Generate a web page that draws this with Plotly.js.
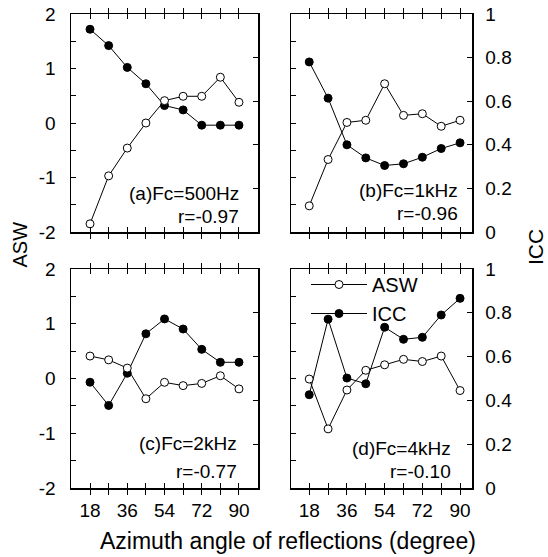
<!DOCTYPE html>
<html><head><meta charset="utf-8">
<script src="https://cdn.plot.ly/plotly-3.0.1.min.js"></script>
<style>html,body{margin:0;padding:0;background:#fff}#chart{width:548px;height:557px}</style>
</head><body><div id="chart"></div>
<script>
const angles = [18, 27, 36, 45, 54, 63, 72, 81, 90];
const panelLabels = ['(a)Fc=500Hz', '(b)Fc=1kHz', '(c)Fc=2kHz', '(d)Fc=4kHz'];
const rLabels = ['r=-0.97', 'r=-0.96', 'r=-0.77', 'r=-0.10'];
const aswA = [-1.85, -0.97, -0.46, 0.0, 0.41, 0.49, 0.49, 0.84, 0.38];
const iccA = [0.93, 0.855, 0.755, 0.68, 0.58, 0.56, 0.49, 0.49, 0.49];
const aswB = [-1.52, -0.67, 0.01, 0.05, 0.72, 0.14, 0.17, -0.06, 0.05];
const iccB = [0.78, 0.614, 0.40, 0.34, 0.305, 0.313, 0.343, 0.383, 0.409];
const aswC = [0.41, 0.34, 0.19, -0.37, -0.07, -0.13, -0.09, 0.05, -0.19];
const iccC = [0.483, 0.377, 0.524, 0.704, 0.772, 0.726, 0.633, 0.574, 0.574];
const aswD = [-0.01, -0.92, -0.21, 0.15, 0.25, 0.35, 0.31, 0.41, -0.22];
const iccD = [0.426, 0.771, 0.502, 0.476, 0.734, 0.679, 0.688, 0.790, 0.866];
const xTickVals = [18, 27, 36, 45, 54, 63, 72, 81, 90];
const xTickText = ['18', '', '36', '', '54', '', '72', '', '90'];
const aswTickVals = [-2, -1.5, -1, -0.5, 0, 0.5, 1, 1.5, 2];
const aswTickText = ['-2', '', '-1', '', '0', '', '1', '', '2'];
const iccTickVals = [0, 0.2, 0.4, 0.6, 0.8, 1];
const iccTickText = ['0', '0.2', '0.4', '0.6', '0.8', '1'];

const FONT = 'Liberation Sans, Arial, Helvetica, sans-serif';
const panels = [
  {asw: aswA, icc: iccA, x: 'x',  yIcc: 'y',  yAsw: 'y2'},
  {asw: aswB, icc: iccB, x: 'x2', yIcc: 'y3', yAsw: 'y4'},
  {asw: aswC, icc: iccC, x: 'x3', yIcc: 'y5', yAsw: 'y6'},
  {asw: aswD, icc: iccD, x: 'x4', yIcc: 'y7', yAsw: 'y8'}
];

const data = [];
panels.forEach((p, i) => {
  data.push({
    x: angles, y: p.asw, xaxis: p.x, yaxis: p.yAsw, name: 'ASW',
    type: 'scatter', mode: 'lines+markers', showlegend: i === 3,
    line: {color: '#000', width: 1},
    marker: {symbol: 'circle', size: 8, color: '#fff', line: {color: '#000', width: 1}}
  });
});
panels.forEach((p, i) => {
  data.push({
    x: angles, y: p.icc, xaxis: p.x, yaxis: p.yIcc, name: 'ICC',
    type: 'scatter', mode: 'lines+markers', showlegend: i === 3,
    line: {color: '#000', width: 1},
    marker: {symbol: 'circle', size: 8, color: '#000', line: {color: '#000', width: 1}}
  });
});

const tickFont = {family: FONT, size: 19, color: '#000'};
function xax(domain, anchor, range, labels) {
  return {domain, anchor, range, tickmode: 'array', tickvals: xTickVals, ticktext: xTickText,
    ticks: 'inside', ticklen: 5, tickwidth: 1, tickcolor: '#000',
    showline: true, linewidth: 1.5, linecolor: '#000', mirror: 'allticks',
    showgrid: false, zeroline: false, showticklabels: labels, tickfont: tickFont,
    ticklabelstandoff: 5};
}
function iccAx(domain, anchor, labels) {
  return {domain, anchor, side: 'right', range: [0, 1], tickmode: 'array',
    tickvals: iccTickVals, ticktext: iccTickText,
    ticks: 'inside', ticklen: 5, tickwidth: 1, tickcolor: '#000',
    showline: true, linewidth: 1.5, linecolor: '#000', mirror: false,
    showgrid: false, zeroline: false, showticklabels: labels, tickfont: tickFont,
    ticklabelstandoff: 8};
}
function aswAx(overlay, anchor, labels) {
  return {overlaying: overlay, anchor, side: 'left', range: [-2, 2], tickmode: 'array',
    tickvals: aswTickVals, ticktext: aswTickText,
    ticks: 'inside', ticklen: 5, tickwidth: 1, tickcolor: '#000',
    showline: true, linewidth: 1.5, linecolor: '#000', mirror: false,
    showgrid: false, zeroline: false, showticklabels: labels, tickfont: tickFont,
    ticklabelstandoff: 10};
}
const dLeft = [71/548, 258/548], dRight = [291/548, 472/548];
const dTop = [1 - 232/557, 1 - 14/557], dBot = [1 - 488/557, 1 - 269/557];

const annFont = {family: FONT, size: 19, color: '#000'};
const annPos = [
  {xr: 'x domain', yr: 'y domain', x: 0.909, y1: 0.175, y2: 0.07},
  {xr: 'x2 domain', yr: 'y3 domain', x: 0.934, y1: 0.19, y2: 0.087},
  {xr: 'x3 domain', yr: 'y5 domain', x: 0.90, y1: 0.205, y2: 0.075},
  {xr: 'x4 domain', yr: 'y7 domain', x: 0.895, y1: 0.18, y2: 0.077}
];
const annotations = [];
annPos.forEach((a, i) => {
  annotations.push({xref: a.xr, yref: a.yr, x: a.x, y: a.y1, xanchor: 'right', yanchor: 'middle',
    text: panelLabels[i], showarrow: false, font: annFont});
  annotations.push({xref: a.xr, yref: a.yr, x: a.x, y: a.y2, xanchor: 'right', yanchor: 'middle',
    text: rLabels[i], showarrow: false, font: annFont});
});
annotations.push({xref: 'paper', yref: 'paper', x: 288/548, y: 1 - 541/557, xanchor: 'center', yanchor: 'middle',
  text: 'Azimuth angle of reflections (degree)', showarrow: false, font: {family: FONT, size: 23, color: '#000'}});
annotations.push({xref: 'paper', yref: 'paper', x: 19.5/548, y: 1 - 245/557, xanchor: 'center', yanchor: 'middle',
  text: 'ASW', textangle: -90, showarrow: false, font: {family: FONT, size: 20, color: '#000'}});
annotations.push({xref: 'paper', yref: 'paper', x: 536/548, y: 1 - 247/557, xanchor: 'center', yanchor: 'middle',
  text: 'ICC', textangle: -90, showarrow: false, font: {family: FONT, size: 21, color: '#000'}});

const layout = {
  width: 548, height: 557,
  margin: {l: 0, r: 0, t: 0, b: 0},
  paper_bgcolor: '#fff', plot_bgcolor: 'rgba(0,0,0,0)',
  font: {family: FONT, color: '#000'},
  showlegend: true,
  legend: {x: 306/548, y: 1 - 265/557, xanchor: 'left', yanchor: 'top', bgcolor: 'rgba(0,0,0,0)',
    font: {family: FONT, size: 20, color: '#000'}, itemwidth: 56, tracegroupgap: 0},
  xaxis: xax(dLeft, 'y', [8.8, 99.2], false),
  xaxis2: xax(dRight, 'y3', [9.3, 95.7], false),
  xaxis3: xax(dLeft, 'y5', [8.8, 99.2], true),
  xaxis4: xax(dRight, 'y7', [9.3, 95.7], true),
  yaxis: iccAx(dTop, 'x', false),
  yaxis2: aswAx('y', 'x', true),
  yaxis3: iccAx(dTop, 'x2', true),
  yaxis4: aswAx('y3', 'x2', false),
  yaxis5: iccAx(dBot, 'x3', false),
  yaxis6: aswAx('y5', 'x3', true),
  yaxis7: iccAx(dBot, 'x4', true),
  yaxis8: aswAx('y7', 'x4', false),
  annotations
};
Plotly.newPlot('chart', data, layout, {displayModeBar: false, staticPlot: true});
</script></body></html>
